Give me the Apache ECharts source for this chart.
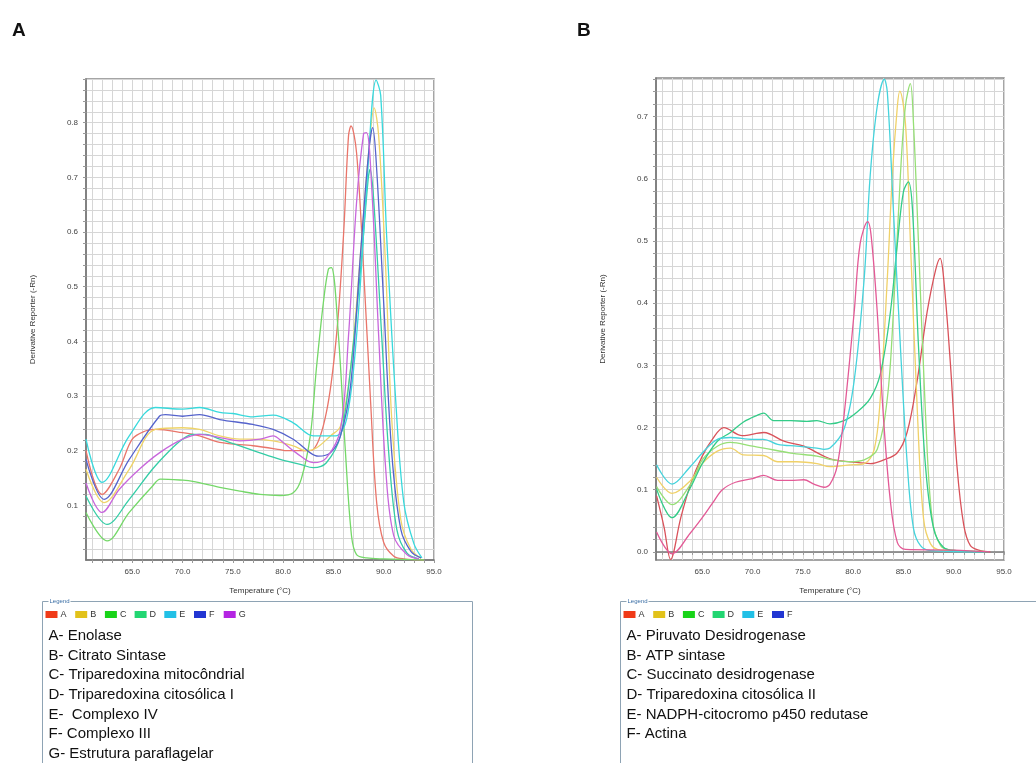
<!DOCTYPE html>
<html style="height: 100%">
<head>
    <meta charset="utf-8">
    <title>Melting curves</title>
    <script src="https://cdn.jsdelivr.net/npm/echarts@6/dist/echarts.min.js"></script>
</head>
<body style="height: 100%; margin: 0; background: #fff">
<div id="chart" style="width:1036px;height:763px"></div>

<script type="text/javascript">
    // ---- panel A: melt curves [temperature, derivative] ----
    var enolase = [[60.4,0.20],[62.0,0.12],[63.7,0.166],[65.0,0.221],[66.3,0.236],[67.3,0.239],[70.0,0.233],[71.7,0.227],[73.7,0.215],[77.0,0.209],[79.7,0.202],[80.3,0.20],[82.3,0.20],[83.0,0.202],[84.3,0.27],[85.3,0.41],[86.0,0.593],[86.5,0.776],[86.75,0.794],[87.3,0.745],[88.0,0.532],[88.7,0.288],[89.3,0.105],[90.0,0.032],[91.0,0.007],[92.0,0.002],[94.0,0.0]];
    var citratoSintase = [[60.4,0.166],[62.2,0.105],[64.7,0.166],[67.3,0.239],[70.0,0.242],[71.7,0.239],[73.7,0.227],[75.7,0.221],[77.0,0.221],[79.0,0.218],[81.0,0.209],[82.3,0.20],[83.3,0.205],[84.7,0.227],[85.7,0.245],[86.7,0.349],[87.7,0.562],[88.5,0.745],[89.05,0.827],[89.5,0.776],[90.2,0.532],[90.8,0.257],[91.7,0.074],[92.7,0.02],[93.7,0.003]];
    var tripMito = [[60.4,0.087],[62.5,0.035],[64.7,0.087],[67.0,0.135],[67.8,0.148],[70.0,0.146],[71.0,0.144],[73.7,0.133],[75.7,0.126],[77.7,0.12],[79.7,0.118],[81.0,0.123],[81.8,0.148],[82.7,0.227],[83.3,0.349],[84.0,0.471],[84.5,0.532],[84.8,0.535],[85.5,0.41],[86.2,0.196],[86.8,0.044],[87.3,0.01],[88.3,0.004],[90.0,0.002],[94.0,0.0]];
    var tripCitoI = [[60.4,0.117],[62.5,0.065],[64.7,0.111],[67.0,0.166],[68.7,0.20],[70.0,0.221],[71.0,0.23],[72.3,0.23],[73.7,0.221],[75.7,0.209],[77.7,0.196],[79.7,0.184],[81.7,0.175],[83.0,0.169],[84.3,0.178],[85.7,0.227],[86.7,0.349],[87.7,0.532],[88.45,0.696],[88.65,0.715],[89.0,0.66],[89.8,0.41],[90.5,0.196],[91.3,0.056],[92.3,0.013],[93.5,0.002]];
    var complexoIV = [[60.4,0.221],[62.0,0.142],[64.7,0.227],[67.3,0.279],[70.0,0.276],[71.7,0.279],[73.7,0.27],[75.0,0.268],[77.0,0.262],[79.0,0.265],[81.0,0.251],[83.0,0.227],[83.7,0.227],[85.2,0.227],[86.3,0.257],[87.3,0.41],[88.3,0.68],[89.25,0.878],[89.7,0.85],[90.3,0.59],[91.2,0.29],[92.0,0.105],[93.0,0.03],[93.8,0.004]];
    var complexoIII = [[60.4,0.184],[62.2,0.111],[64.7,0.184],[67.7,0.263],[68.3,0.266],[70.0,0.263],[71.7,0.266],[73.7,0.257],[77.0,0.248],[79.0,0.239],[81.0,0.221],[82.7,0.196],[83.5,0.19],[84.7,0.196],[85.7,0.227],[86.7,0.318],[87.7,0.562],[88.5,0.745],[88.9,0.791],[89.3,0.715],[90.0,0.47],[90.8,0.196],[91.7,0.056],[92.7,0.016],[93.7,0.004]];
    var paraflagelar = [[60.4,0.141],[62.0,0.087],[63.7,0.129],[65.7,0.166],[67.7,0.196],[70.0,0.221],[71.7,0.23],[73.7,0.224],[75.7,0.218],[77.7,0.221],[79.0,0.227],[80.0,0.215],[81.3,0.196],[83.0,0.178],[84.3,0.187],[85.7,0.239],[86.5,0.41],[87.3,0.654],[88.0,0.78],[88.3,0.782],[88.8,0.684],[89.5,0.41],[90.2,0.166],[91.0,0.044],[92.3,0.01],[93.5,0.002]];

    // ---- panel B ----
    var piruvato = [[60.46,0.09],[61.2,0.04],[61.85,-0.012],[62.85,0.054],[63.84,0.109],[65.0,0.154],[66.0,0.181],[67.15,0.2],[68.97,0.187],[71.13,0.192],[73.11,0.178],[75.1,0.17],[77.09,0.154],[78.08,0.148],[79.74,0.145],[81.72,0.142],[83.05,0.148],[84.37,0.159],[85.36,0.192],[86.36,0.275],[87.35,0.385],[88.18,0.452],[88.65,0.472],[89.0,0.44],[89.67,0.303],[90.33,0.137],[91.0,0.043],[91.66,0.01],[92.65,0.002],[93.64,0.0]];
    var atpSintase = [[60.46,0.12],[62.0,0.094],[63.84,0.115],[65.0,0.142],[66.5,0.162],[67.8,0.167],[69.1,0.156],[71.1,0.155],[72.5,0.145],[74.4,0.145],[76.4,0.142],[77.7,0.137],[79.7,0.14],[81.1,0.142],[82.1,0.165],[82.7,0.247],[83.4,0.44],[83.9,0.606],[84.4,0.717],[84.64,0.741],[85.2,0.689],[85.7,0.496],[86.4,0.22],[87.0,0.054],[87.7,0.013],[88.7,0.003],[92.0,0.001]];
    var succinato = [[60.46,0.105],[62.0,0.076],[63.84,0.109],[65.0,0.148],[66.5,0.17],[67.8,0.176],[70.0,0.17],[71.1,0.167],[73.8,0.159],[76.4,0.154],[78.0,0.148],[79.7,0.145],[81.1,0.148],[82.4,0.165],[83.4,0.247],[84.0,0.385],[84.7,0.606],[85.2,0.717],[85.69,0.753],[86.0,0.689],[86.5,0.496],[87.2,0.22],[87.85,0.054],[88.7,0.01],[89.7,0.003],[93.0,0.001]];
    var tripCitoII = [[60.46,0.101],[62.0,0.055],[63.84,0.104],[65.0,0.142],[66.5,0.178],[67.8,0.192],[69.1,0.209],[70.5,0.22],[71.1,0.223],[72.1,0.211],[73.8,0.211],[75.4,0.21],[76.4,0.211],[77.7,0.206],[79.1,0.211],[80.4,0.225],[81.7,0.247],[82.7,0.286],[83.7,0.385],[84.4,0.496],[85.0,0.579],[85.5,0.595],[85.9,0.551],[86.5,0.33],[87.2,0.137],[88.0,0.038],[89.0,0.007],[90.3,0.002],[93.5,0.0]];
    var nadph = [[60.46,0.14],[62.0,0.109],[63.8,0.137],[65.0,0.159],[66.5,0.181],[67.8,0.184],[70.0,0.181],[71.1,0.181],[72.5,0.173],[74.4,0.17],[76.4,0.167],[77.1,0.165],[77.7,0.167],[79.1,0.198],[80.1,0.275],[81.1,0.44],[81.7,0.606],[82.4,0.717],[83.1,0.76],[83.4,0.739],[84.0,0.551],[84.7,0.33],[85.4,0.137],[86.0,0.038],[86.7,0.01],[87.7,0.002],[93.0,0.0]];
    var actina = [[60.46,0.032],[62.0,-0.003],[63.8,0.03],[65.0,0.055],[66.0,0.078],[67.0,0.1],[68.3,0.112],[70.0,0.118],[71.1,0.123],[72.5,0.115],[73.8,0.115],[75.1,0.116],[76.1,0.109],[77.1,0.104],[77.7,0.109],[78.4,0.137],[79.1,0.22],[80.1,0.385],[80.7,0.496],[81.45,0.531],[81.8,0.507],[82.4,0.385],[83.0,0.22],[83.7,0.082],[84.4,0.015],[85.2,0.004],[90.0,0.003],[93.6,0.0]];

    var seriesA = [enolase, citratoSintase, tripMito, tripCitoI, complexoIV, complexoIII, paraflagelar];
    var seriesB = [piruvato, atpSintase, succinato, tripCitoII, nadph, actina];
    var colorsA = ['#e9756a', '#efd468', '#74d868', '#34cda6', '#38d9dc', '#5563cc', '#c866dc'];
    var colorsB = ['#d9525a', '#f0d168', '#96df76', '#33cc88', '#45d3dc', '#e35a96'];

    var keysA = ['A', 'B', 'C', 'D', 'E', 'F', 'G'];
    var keysB = ['A', 'B', 'C', 'D', 'E', 'F'];
    var swatchColors = ['#f03a18', '#e2c21a', '#18d418', '#22d672', '#22c0e6', '#2236d2', '#b424e2'];
    var namesA = ['A- Enolase', 'B- Citrato Sintase', 'C- Triparedoxina mitocôndrial', 'D- Triparedoxina citosólica I', 'E-  Complexo IV', 'F- Complexo III', 'G- Estrutura paraflagelar'];
    var namesB = ['A- Piruvato Desidrogenase', 'B- ATP sintase', 'C- Succinato desidrogenase', 'D- Triparedoxina citosólica II', 'E- NADPH-citocromo p450 redutase', 'F- Actina'];

    // tick positions
    var xLabels = [65, 70, 75, 80, 85, 90, 95];
    var yLabelsA = [0.1, 0.2, 0.3, 0.4, 0.5, 0.6, 0.7, 0.8];
    var yLabelsB = [0.0, 0.1, 0.2, 0.3, 0.4, 0.5, 0.6, 0.7];
    var xGrid = [];
    for (var t = 61; t <= 95; t++) xGrid.push(t);
    var yGridA = [];
    for (var i = 1; i <= 44; i++) yGridA.push(+(i * 0.02).toFixed(2));
    var yGridB = [];
    for (var j = 0; j <= 38; j++) yGridB.push(+(j * 0.02).toFixed(2));

    var font = 'Liberation Sans, Arial, sans-serif';
    var gridLine = {show: true, lineStyle: {color: '#d6d6d6', width: 1}};

    function xAxisOf(gi) {
        return {
            type: 'value', gridIndex: gi, min: 60.4, max: 95,
            name: 'Temperature (°C)', nameLocation: 'middle', nameGap: 27,
            nameTextStyle: {fontSize: 8, color: '#333', fontFamily: font},
            axisLine: {show: true, lineStyle: {color: '#777', width: 1.5}},
            axisTick: {show: true, length: 3, customValues: xGrid, lineStyle: {color: '#999'}},
            axisLabel: {customValues: xLabels, fontSize: 8, color: '#444', margin: 8, fontFamily: font,
                formatter: function (v) { return v.toFixed(1); }},
            splitLine: gridLine
        };
    }
    function yAxisOf(gi, min, max, grid, labels) {
        return {
            type: 'value', gridIndex: gi, min: min, max: max,
            name: 'Derivative Reporter (-Rn)', nameLocation: 'middle', nameGap: 49,
            nameTextStyle: {fontSize: 8, color: '#333', fontFamily: font},
            axisLine: {show: true, lineStyle: {color: '#777', width: 1.5}},
            axisTick: {show: true, length: 3, customValues: grid, lineStyle: {color: '#999'}},
            axisLabel: {customValues: labels, fontSize: 8, color: '#444', margin: 8, fontFamily: font,
                formatter: function (v) { return v.toFixed(1); }},
            splitLine: gridLine
        };
    }

    var series = [];
    seriesA.forEach(function (d, k) {
        series.push({type: 'line', xAxisIndex: 0, yAxisIndex: 0, data: d, smooth: 0.35, symbol: 'none',
            lineStyle: {color: colorsA[k], width: 1.3}});
    });
    seriesB.forEach(function (d, k) {
        series.push({type: 'line', xAxisIndex: 1, yAxisIndex: 1, data: d, smooth: 0.35, symbol: 'none',
            lineStyle: {color: colorsB[k], width: 1.3}});
    });

    // legend boxes drawn below each panel
    function legendBox(left, width, keys, names) {
        var els = [];
        els.push({type: 'rect', shape: {x: left, y: 601.5, width: width, height: 200},
            style: {fill: '#fff', stroke: '#8ea3b4', lineWidth: 1}});
        els.push({type: 'rect', shape: {x: left + 6, y: 598, width: 22, height: 7}, style: {fill: '#fff'}});
        els.push({type: 'text', x: left + 7, y: 598.5, style: {text: 'Legend', fontSize: 6, fill: '#3a6ea5', fontFamily: font}});
        keys.forEach(function (k, n) {
            els.push({type: 'rect', shape: {x: left + 3 + n * 29.7, y: 611, width: 12, height: 7}, style: {fill: swatchColors[n]}});
            els.push({type: 'text', x: left + 18 + n * 29.7, y: 610, style: {text: k, fontSize: 9, fill: '#333', fontFamily: font}});
        });
        names.forEach(function (s, n) {
            els.push({type: 'text', x: left + 6, y: 628.5 + n * 19.6, style: {text: s, fontSize: 15, fill: '#111', fontFamily: font}});
        });
        return els;
    }

    var graphics = [
        {type: 'text', x: 12, y: 21, style: {text: 'A', fontSize: 19, fontWeight: 'bold', fill: '#111', fontFamily: font}},
        {type: 'text', x: 577, y: 21, style: {text: 'B', fontSize: 19, fontWeight: 'bold', fill: '#111', fontFamily: font}}
    ].concat(legendBox(42.5, 430, keysA, namesA), legendBox(620.5, 430, keysB, namesB));

    var myChart = echarts.init(document.getElementById('chart'));
    myChart.setOption({
        animation: false,
        backgroundColor: '#fff',
        grid: [
            {left: 86, top: 79, width: 348, height: 481, show: true, borderColor: '#888', borderWidth: 1.5},
            {left: 656, top: 78, width: 348, height: 482, show: true, borderColor: '#888', borderWidth: 1.5}
        ],
        xAxis: [xAxisOf(0), xAxisOf(1)],
        yAxis: [yAxisOf(0, 0, 0.88, yGridA, yLabelsA), yAxisOf(1, -0.013, 0.762, yGridB, yLabelsB)],
        series: series,
        graphic: graphics
    });
</script>
</body>
</html>
